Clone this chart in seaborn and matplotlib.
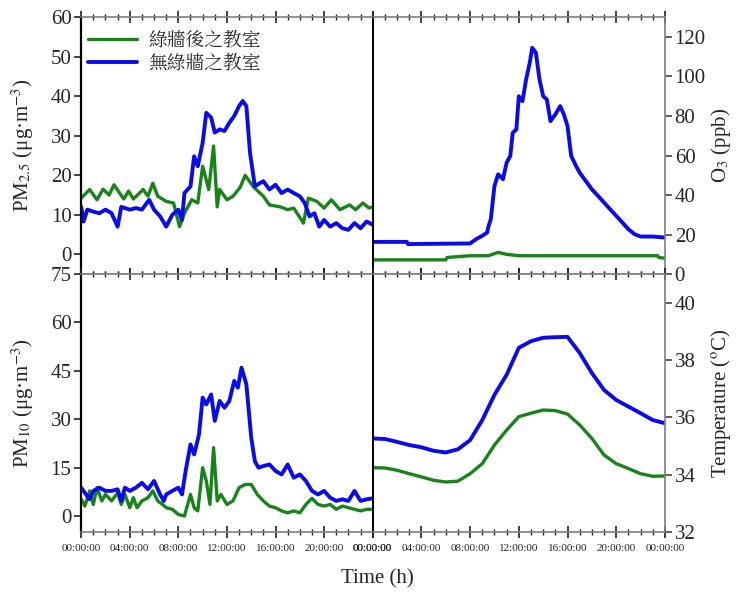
import numpy as np
import pandas as pd
import matplotlib
matplotlib.use('Agg')
import matplotlib.pyplot as plt
import seaborn as sns
from matplotlib.ticker import MultipleLocator, FixedLocator

# %% data (hours since midnight)
pm25_green_h = [0, 0.7, 1.3, 1.8, 2.3, 2.7, 3.5, 3.9, 4.3, 5.1, 5.5, 5.9, 6.3, 7.0, 7.6, 8.1, 8.5, 9.1, 9.6,
                10.0, 10.5, 10.9, 11.2, 11.4, 12.0, 12.5, 13.1, 13.5, 14.2, 15.0, 15.5, 16.4, 17.0, 17.5, 18.3,
                18.7, 19.4, 20.0, 20.6, 21.3, 22.1, 22.6, 23.2, 23.7, 24.0]
pm25_green = [14.2, 16.4, 13.8, 16.5, 15.0, 17.6, 14.0, 16.0, 14.0, 16.4, 14.7, 18.0, 14.7, 13.4, 13.0, 7.0, 10.4,
              13.8, 13.0, 22.3, 16.4, 27.4, 12.0, 16.4, 13.8, 14.7, 17.0, 20.0, 17.0, 14.7, 12.5, 12.0, 11.3, 11.7,
              7.9, 14.2, 13.4, 11.7, 13.8, 11.3, 12.5, 11.3, 13.0, 11.7, 12.0]

pm25_blue_h = [0, 0.2, 0.5, 1.0, 1.5, 2.0, 2.5, 3.0, 3.3, 4.0, 4.5, 5.0, 5.6, 6.0, 6.5, 7.0, 7.5, 8.0, 8.3, 8.5,
               9.0, 9.3, 9.6, 10.0, 10.3, 10.7, 11.0, 11.4, 11.8, 12.2, 12.6, 13.0, 13.3, 13.6, 13.9, 14.3, 14.7,
               15.0, 15.5, 16.0, 16.5, 17.0, 17.5, 18.0, 18.4, 18.8, 19.2, 19.6, 20.0, 20.5, 21.0, 21.5, 22.0,
               22.5, 23.0, 23.5, 24.0]
pm25_blue = [12.0, 8.3, 11.3, 10.8, 10.4, 11.3, 10.4, 7.0, 12.0, 11.3, 11.7, 11.3, 13.8, 11.3, 9.6, 7.0, 10.0,
             11.3, 8.7, 15.5, 17.2, 24.8, 22.3, 28.2, 35.8, 34.6, 30.8, 31.6, 31.2, 33.3, 35.0, 37.5, 38.8, 37.5,
             25.7, 17.2, 18.0, 18.5, 16.4, 17.6, 15.5, 16.4, 15.5, 14.7, 13.0, 9.6, 10.4, 7.0, 8.7, 7.0, 7.9, 6.6,
             6.2, 7.9, 6.6, 8.3, 7.5]

pm10_green_h = [0, 0.3, 0.7, 1.0, 1.3, 1.7, 2.0, 2.5, 3.0, 3.3, 3.6, 4.0, 4.3, 4.6, 5.0, 5.5, 5.9, 6.3, 6.7, 7.0,
                7.5, 8.0, 8.5, 9.0, 9.3, 9.6, 10.0, 10.3, 10.6, 10.9, 11.2, 11.5, 12.0, 12.5, 13.0, 13.5, 14.0,
                14.5, 15.0, 15.5, 16.0, 16.5, 17.0, 17.5, 18.0, 18.5, 19.0, 19.5, 20.0, 20.5, 21.0, 21.5, 22.0,
                22.5, 23.0, 23.5, 24.0]
pm10_green = [5.2, 3.1, 7.8, 3.6, 8.8, 4.7, 6.7, 4.7, 7.2, 3.6, 6.7, 2.6, 5.7, 2.6, 4.7, 5.7, 7.8, 4.7, 3.6, 2.6,
              2.1, 0.5, 0.0, 6.7, 2.6, 1.6, 15.0, 10.9, 3.6, 21.2, 4.7, 6.7, 3.6, 4.7, 8.8, 9.8, 9.8, 6.7, 4.7, 3.1,
              2.6, 1.6, 1.0, 1.6, 1.0, 3.6, 5.5, 3.6, 3.1, 3.6, 2.1, 3.1, 2.6, 2.1, 1.6, 2.1, 2.1]

pm10_blue_h = [0, 0.4, 0.7, 1.0, 1.5, 2.0, 2.5, 3.0, 3.3, 3.6, 4.0, 4.5, 5.0, 5.5, 6.0, 6.5, 6.8, 7.0, 7.5, 8.0,
               8.3, 8.6, 9.0, 9.3, 9.7, 10.0, 10.3, 10.7, 11.0, 11.4, 11.8, 12.2, 12.6, 12.9, 13.2, 13.6, 14.0,
               14.3, 14.6, 15.0, 15.5, 16.0, 16.5, 17.0, 17.5, 18.0, 18.5, 19.0, 19.5, 20.0, 20.5, 21.0, 21.5,
               22.0, 22.5, 23.0, 23.5, 24.0]
pm10_blue = [8.8, 6.7, 5.2, 7.8, 8.8, 7.8, 7.8, 8.3, 4.7, 8.8, 7.8, 8.8, 10.3, 8.3, 10.9, 6.7, 4.7, 6.7, 7.8, 8.8,
             6.7, 14.0, 22.2, 19.1, 25.3, 36.7, 34.6, 37.7, 29.5, 35.7, 33.6, 35.7, 41.9, 39.8, 46.0, 40.8, 24.3,
             17.0, 15.0, 15.5, 16.0, 14.0, 12.9, 16.0, 11.9, 12.9, 10.9, 7.8, 6.7, 7.8, 5.7, 4.7, 5.2, 4.7, 7.8,
             4.7, 5.2, 5.5]

o3_blue_h = [0, 2.8, 2.9, 8.0, 8.5, 9.0, 9.4, 9.5, 9.7, 10.0, 10.3, 10.7, 11.0, 11.3, 11.5, 11.8, 12.0, 12.3,
             12.6, 12.9, 13.1, 13.4, 13.7, 14.0, 14.3, 14.6, 15.0, 15.4, 15.7, 16.0, 16.3, 16.7, 17.0, 17.5,
             18.0, 18.5, 19.0, 19.5, 20.0, 20.5, 21.0, 21.5, 22.0, 23.0, 24.0]
o3_blue = [16.3, 16.3, 15.2, 15.5, 17.7, 19.4, 21.0, 24.0, 27.8, 44.6, 50.5, 48.0, 56.4, 59.8, 71.5, 73.2, 90.0,
           87.5, 98.5, 107.0, 114.5, 112.0, 98.5, 90.0, 88.4, 77.4, 80.8, 85.0, 80.8, 74.9, 59.8, 54.7, 51.3,
           47.1, 42.9, 39.6, 36.2, 32.8, 29.5, 26.1, 22.7, 20.2, 19.0, 19.0, 18.5]

o3_green_h = [0, 6.0, 6.1, 8.0, 9.5, 10.3, 11.0, 12.0, 16.0, 20.0, 23.4, 23.5, 24.0]
o3_green = [7.2, 7.2, 8.4, 9.3, 9.3, 11.0, 10.0, 9.3, 9.3, 9.3, 9.3, 8.4, 8.0]

temp_h = list(range(25))
temp_blue = [35.27, 35.25, 35.15, 35.04, 34.96, 34.84, 34.78, 34.89, 35.21, 35.91, 36.79, 37.49, 38.43, 38.66,
             38.78, 38.80, 38.81, 38.25, 37.55, 36.96, 36.61, 36.38, 36.15, 35.91, 35.80]
temp_green = [34.25, 34.24, 34.16, 34.04, 33.93, 33.81, 33.75, 33.78, 34.04, 34.39, 35.04, 35.56, 36.03, 36.15,
              36.26, 36.24, 36.12, 35.74, 35.27, 34.69, 34.39, 34.22, 34.04, 33.95, 33.96]

label_green = '綠牆後之教室'
label_blue = '無綠牆之教室'
xtick_hours = [0, 4, 8, 12, 16, 20, 24]
xtick_labels = ['00:00:00', '04:00:00', '08:00:00', '12:00:00', '16:00:00', '20:00:00', '00:00:00']

# %% style
sns.set_style('ticks')
plt.rcParams['font.family'] = ['Liberation Serif', 'Noto Serif CJK TC', 'Noto Sans CJK TC', 'DejaVu Sans']
plt.rcParams['mathtext.fontset'] = 'stix'

BLUE = '#0a0af0'
GREEN = '#178417'
GRAY = '#7f7f7f'

fig = plt.figure(figsize=(7.38, 5.92), dpi=100)
x0, xm, x1 = 0.110, 0.505, 0.901
y0, ym, y1 = 0.101, 0.537, 0.971
ax_pm25 = fig.add_axes([x0, ym, xm - x0, y1 - ym])
ax_o3 = fig.add_axes([xm, ym, x1 - xm, y1 - ym])
ax_pm10 = fig.add_axes([x0, y0, xm - x0, ym - y0])
ax_temp = fig.add_axes([xm, y0, x1 - xm, ym - y0])


def draw(ax, hg, g, hb, b, legend=False):
    dg = pd.DataFrame({'h': hg, 'v': g, 's': label_green})
    db = pd.DataFrame({'h': hb, 'v': b, 's': label_blue})
    sns.lineplot(data=dg, x='h', y='v', color=GREEN, lw=2.4, ax=ax, label=label_green if legend else None)
    sns.lineplot(data=db, x='h', y='v', color=BLUE, lw=2.8, ax=ax, label=label_blue if legend else None)


draw(ax_pm25, pm25_green_h, pm25_green, pm25_blue_h, pm25_blue, legend=True)
draw(ax_o3, o3_green_h, o3_green, o3_blue_h, o3_blue)
draw(ax_pm10, pm10_green_h, pm10_green, pm10_blue_h, pm10_blue)
draw(ax_temp, temp_h, temp_green, temp_h, temp_blue)

for ax in [ax_pm25, ax_o3, ax_pm10, ax_temp]:
    ax.set_xlim(0, 24)
    ax.xaxis.set_major_locator(FixedLocator(xtick_hours))
    ax.xaxis.set_minor_locator(MultipleLocator(1))
    ax.tick_params(axis='x', which='both', top=True, bottom=True, direction='inout', color='#222222')
    ax.tick_params(axis='x', which='major', length=9, width=1.2)
    ax.tick_params(axis='x', which='minor', length=5, width=1.0)
    ax.set_xlabel('')
    ax.set_ylabel('')
    for s in ax.spines.values():
        s.set_color(GRAY)
        s.set_linewidth(1.2)

for ax in [ax_pm25, ax_o3]:
    ax.set_xticklabels([])

for ax in [ax_pm10, ax_temp]:
    ax.set_xticklabels(xtick_labels, fontsize=8)
    ax.tick_params(axis='x', which='major', pad=4)

# left column
for ax in [ax_pm25, ax_pm10]:
    ax.spines['left'].set_color('black')
    ax.spines['left'].set_linewidth(1.6)
    ax.spines['right'].set_color('black')
    ax.spines['right'].set_linewidth(1.4)
    ax.tick_params(axis='y', labelsize=15, length=5, width=1.2, direction='out', color='#222222', pad=2)

ax_pm25.set_ylim(-5, 60)
ax_pm25.set_yticks(range(0, 61, 10))
ax_pm10.set_ylim(-5, 75)
ax_pm10.set_yticks(range(0, 76, 15))

# right column
for ax in [ax_o3, ax_temp]:
    ax.yaxis.tick_right()
    ax.yaxis.set_label_position('right')
    ax.spines['left'].set_color('black')
    ax.spines['left'].set_linewidth(1.4)
    ax.tick_params(axis='y', labelsize=15, length=5, width=1.2, direction='out', color='#444444', pad=2)

ax_o3.set_ylim(0, 130)
ax_o3.set_yticks(range(0, 121, 20))
ax_temp.set_ylim(32, 41)
ax_temp.set_yticks(range(32, 41, 2))

ax_pm25.set_ylabel('PM$_{2.5}$ (μg·m$^{-3}$)', fontsize=15)
ax_pm10.set_ylabel('PM$_{10}$ (μg·m$^{-3}$)', fontsize=15)
ax_o3.set_ylabel('O$_3$ (ppb)', fontsize=15)
ax_temp.set_ylabel('Temperature ($^{\\rm o}$C)', fontsize=15)
for ax in [ax_pm25, ax_pm10]:
    ax.yaxis.set_label_coords(-0.155, 0.5)
for ax in [ax_o3, ax_temp]:
    ax.yaxis.set_label_coords(1.15, 0.5)

leg = ax_pm25.legend(loc='upper left', bbox_to_anchor=(-0.02, 1.0), frameon=False,
                     handlelength=2.6, handletextpad=0.6, labelspacing=0.15, borderaxespad=0.3,
                     prop={'family': ['Noto Serif CJK TC', 'Noto Sans CJK TC'], 'size': 13.5})

fig.text(0.512, 0.022, 'Time (h)', ha='center', va='center', fontsize=15)

fig.savefig('out.png', dpi=100)
